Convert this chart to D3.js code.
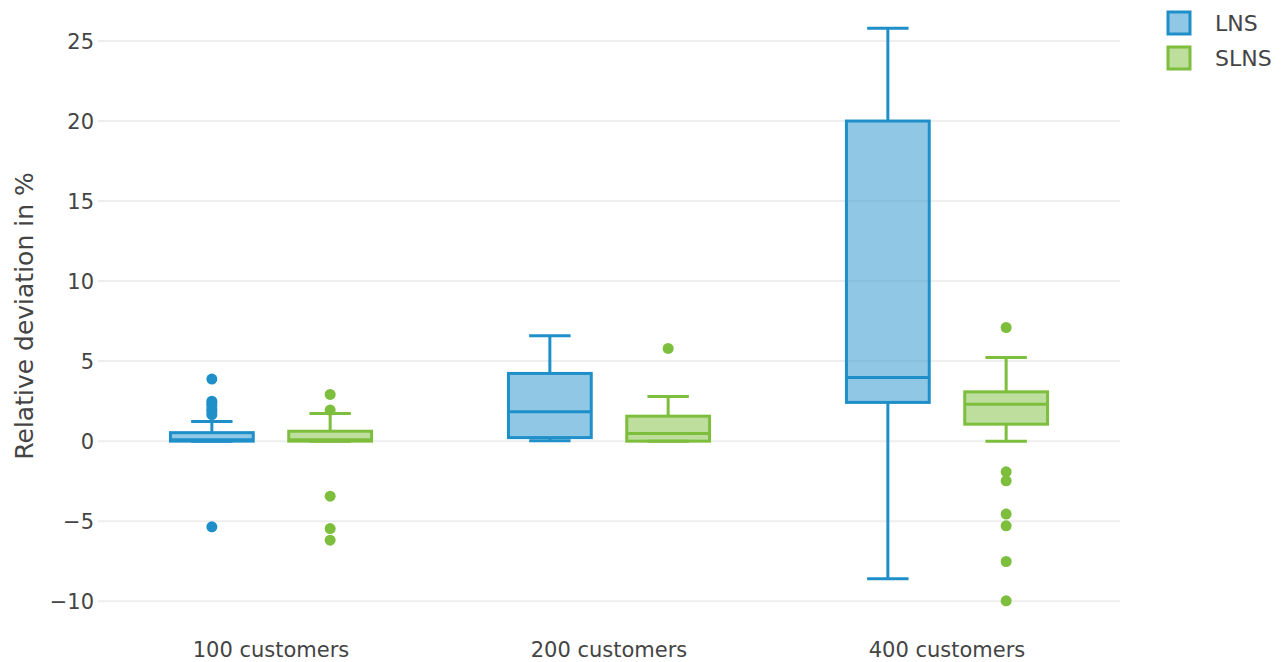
<!DOCTYPE html>
<html lang="en">
<head>
  <meta charset="UTF-8">
  <title>Relative deviation box plot</title>
  <script src="https://d3js.org/d3.v7.min.js"></script>
  <style>
    body { margin: 0; background: #fff; }
    svg { display: block; font-family: "DejaVu Sans", Verdana, sans-serif; }
    .tick-label { fill: #444; font-size: 21px; }
    .axis-title { fill: #444; font-size: 25px; }
    .legend-label { fill: #444; font-size: 22px; }
  </style>
</head>
<body>
  <svg width="1287" height="662"></svg>
  <script>
    const categories = ["100 customers", "200 customers", "400 customers"];
    const seriesNames = ["LNS", "SLNS"];
    const yTicks = [-10, -5, 0, 5, 10, 15, 20, 25];

    // box statistics, one value per category
    const lnsLower   = [0, 0.02, -8.6];
    const lnsQ1      = [0, 0.22, 2.42];
    const lnsMedian  = [0.08, 1.83, 3.98];
    const lnsQ3      = [0.53, 4.23, 20.0];
    const lnsUpper   = [1.23, 6.58, 25.8];
    const lnsOutliers = [[3.88, 2.5, 2.35, 2.2, 2.0, 1.85, 1.65, -5.35], [], []];

    const slnsLower   = [0, 0, 0];
    const slnsQ1      = [0, 0, 1.06];
    const slnsMedian  = [0.08, 0.48, 2.31];
    const slnsQ3      = [0.62, 1.56, 3.08];
    const slnsUpper   = [1.73, 2.79, 5.23];
    const slnsOutliers = [[2.92, 1.94, -3.44, -5.46, -6.19], [5.79], [7.1, -1.92, -2.48, -4.56, -5.29, -7.52, -9.98]];

    const colors = { LNS: "rgb(31,143,201)", SLNS: "rgb(125,190,61)" };
    const fills = { LNS: "rgba(31,143,201,0.5)", SLNS: "rgba(125,190,61,0.5)" };

    const series = [
      { name: "LNS", lower: lnsLower, q1: lnsQ1, median: lnsMedian, q3: lnsQ3, upper: lnsUpper, outliers: lnsOutliers },
      { name: "SLNS", lower: slnsLower, q1: slnsQ1, median: slnsMedian, q3: slnsQ3, upper: slnsUpper, outliers: slnsOutliers }
    ];

    const svg = d3.select("svg");
    const plot = { left: 98, right: 1120, top: 1, bottom: 630 };

    const y = d3.scaleLinear().domain([-11.8, 27.5]).range([630, 1]);
    const x0 = d3.scaleBand().domain(categories).range([102, 1116]).padding(0);
    const groupWidth = x0.bandwidth() * 0.7;
    const x1 = d3.scaleBand().domain(seriesNames).range([-groupWidth / 2, groupWidth / 2]);
    const boxWidth = x1.bandwidth() * 0.7;
    const capWidth = boxWidth * 0.5;

    // grid
    svg.append("g").selectAll("line")
      .data(yTicks)
      .enter().append("line")
        .attr("x1", plot.left).attr("x2", plot.right)
        .attr("y1", d => y(d)).attr("y2", d => y(d))
        .attr("stroke", "#eee").attr("stroke-width", 2);

    // y tick labels
    svg.append("g").selectAll("text")
      .data(yTicks)
      .enter().append("text")
        .attr("class", "tick-label")
        .attr("x", 94)
        .attr("y", d => y(d))
        .attr("dy", "0.36em")
        .attr("text-anchor", "end")
        .text(d => d < 0 ? "\u2212" + Math.abs(d) : d);

    // x tick labels
    svg.append("g").selectAll("text")
      .data(categories)
      .enter().append("text")
        .attr("class", "tick-label")
        .attr("x", d => x0(d) + x0.bandwidth() / 2)
        .attr("y", 657)
        .attr("text-anchor", "middle")
        .text(d => d);

    svg.append("text")
      .attr("class", "axis-title")
      .attr("transform", "translate(33,316) rotate(-90)")
      .attr("text-anchor", "middle")
      .text("Relative deviation in %");

    // boxes
    series.forEach(s => {
      const g = svg.append("g");
      categories.forEach((c, i) => {
        const cx = x0(c) + x0.bandwidth() / 2 + x1(s.name) + x1.bandwidth() / 2;
        const stroke = colors[s.name];

        // whiskers
        g.append("line")
          .attr("x1", cx).attr("x2", cx)
          .attr("y1", y(s.q3[i])).attr("y2", y(s.upper[i]))
          .attr("stroke", stroke).attr("stroke-width", 3);
        g.append("line")
          .attr("x1", cx).attr("x2", cx)
          .attr("y1", y(s.q1[i])).attr("y2", y(s.lower[i]))
          .attr("stroke", stroke).attr("stroke-width", 3);
        [s.upper[i], s.lower[i]].forEach(v => {
          g.append("line")
            .attr("x1", cx - capWidth / 2).attr("x2", cx + capWidth / 2)
            .attr("y1", y(v)).attr("y2", y(v))
            .attr("stroke", stroke).attr("stroke-width", 3);
        });

        g.append("rect")
          .attr("x", cx - boxWidth / 2)
          .attr("width", boxWidth)
          .attr("y", y(s.q3[i]))
          .attr("height", y(s.q1[i]) - y(s.q3[i]))
          .attr("fill", fills[s.name])
          .attr("stroke", stroke).attr("stroke-width", 3);

        g.append("line")
          .attr("x1", cx - boxWidth / 2).attr("x2", cx + boxWidth / 2)
          .attr("y1", y(s.median[i])).attr("y2", y(s.median[i]))
          .attr("stroke", stroke).attr("stroke-width", 3);

        g.selectAll(null)
          .data(s.outliers[i])
          .enter().append("circle")
            .attr("cx", cx)
            .attr("cy", d => y(d))
            .attr("r", 5.5)
            .attr("fill", stroke);
      });
    });

    // legend
    const legend = svg.append("g");
    seriesNames.forEach((name, i) => {
      const ly = 23 + i * 35;
      legend.append("rect")
        .attr("x", 1168).attr("y", ly - 11)
        .attr("width", 22).attr("height", 22)
        .attr("fill", fills[name])
        .attr("stroke", colors[name]).attr("stroke-width", 3);
      legend.append("text")
        .attr("class", "legend-label")
        .attr("x", 1215).attr("y", ly)
        .attr("dy", "0.36em")
        .text(name);
    });
  </script>
</body>
</html>
